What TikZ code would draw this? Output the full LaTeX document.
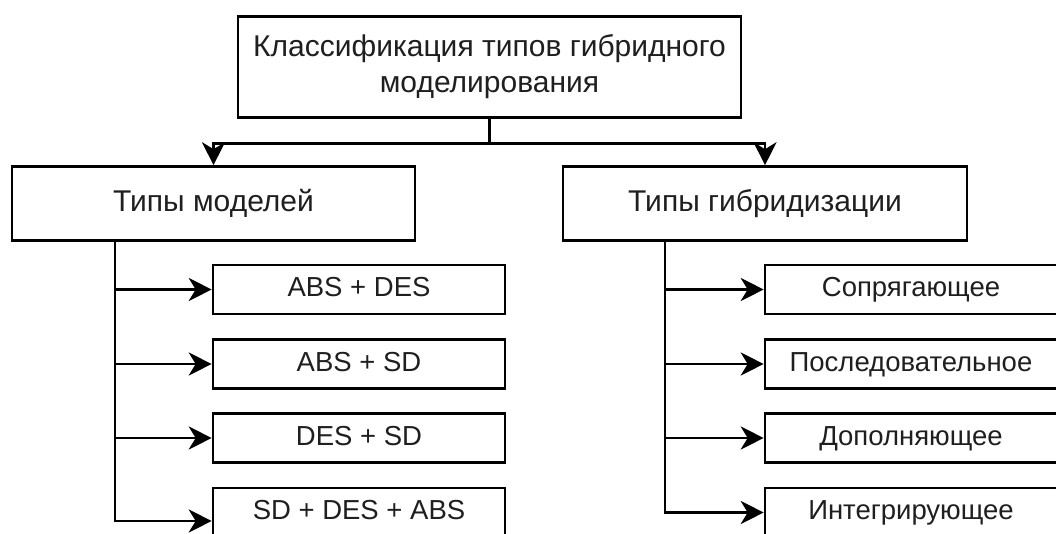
\documentclass[tikz,border=0pt]{standalone}
\usepackage{fontspec}
\setmainfont{Liberation Sans}
\usetikzlibrary{arrows.meta}
\begin{document}
\begin{tikzpicture}[x=1pt,y=-1pt,
  box/.style={draw=black,line width=2.6pt,fill=white,inner sep=0pt,align=center,
    text=black!88,font=\fontsize{27.5}{35}\selectfont,text height=20pt,text depth=6pt},
  bigbox/.style={box,font=\fontsize{30}{36}\selectfont,text height=22pt,text depth=6.5pt},
  conn/.style={draw=black,line width=2.6pt},
  arr/.style={conn,-{Stealth[length=23pt,width=23pt,inset=7pt]}}]
\useasboundingbox (0,0) rectangle (1056,534);
\clip (0,0) rectangle (1056,534);
\fill[white] (0,0) rectangle (1056,534);
\node[draw=black,line width=2.6pt,fill=white,inner sep=0pt,align=center,text=black!88,
  font=\fontsize{30}{36}\selectfont,minimum width=503pt,minimum height=101pt] (top) at (489.5,67)
  {Классификация типов гибридного\\моделирования};
\node[bigbox,minimum width=403pt,minimum height=74pt] (lm) at (213.5,203.5) {Типы моделей};
\node[bigbox,minimum width=404pt,minimum height=74pt] (rm) at (765,203.5) {Типы гибридизации};
\foreach \n/\y/\t in {1/289.5/ABS + DES,2/364/ABS + SD,3/438/DES + SD,4/512.5/SD + DES + ABS}
  \node[box,minimum width=292pt,minimum height=49pt] (lc\n) at (359,\y) {\t};
\foreach \n/\y/\t in {1/289.5/Сопрягающее,2/364/Последовательное,3/438/Дополняющее,4/512.5/Интегрирующее}
  \node[box,minimum width=292pt,minimum height=49pt] (rc\n) at (911,\y) {\t};
\coordinate (lt) at (115,0);
\coordinate (rt) at (665,0);
\draw[arr] (top.south) -- ++(0,25) -| (lm.north);
\draw[arr] (top.south) -- ++(0,25) -| (rm.north);
\foreach \n in {1,2,3}{
  \draw[arr] (lm.south -| lt) |- (lc\n.west);
  \draw[arr] (rm.south -| rt) |- (rc\n.west);
}
\draw[arr] (lm.south -| lt) |- ([yshift=-8.5pt]lc4.west);
\draw[arr] (rm.south -| rt) |- (rc4.west);
\end{tikzpicture}
\end{document}
